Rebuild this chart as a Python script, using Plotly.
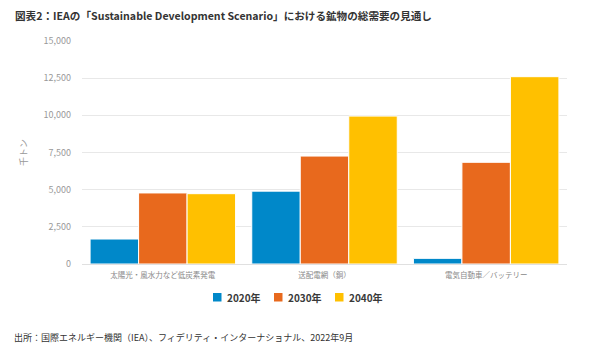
import plotly.graph_objects as go

categories = ["太陽光・風水力など低炭素発電", "送配電網（銅）", "電気自動車／バッテリー"]
years = ["2020年", "2030年", "2040年"]
values_2020 = [1680, 4900, 380]
values_2030 = [4780, 7260, 6840]
values_2040 = [4730, 9950, 12600]
colors = ["#0088C9", "#E8691D", "#FFC000"]
y_ticks = [0, 2500, 5000, 7500, 10000, 12500, 15000]
y_ticklabels = ["0", "2,500", "5,000", "7,500", "10,000", "12,500", "15,000"]

FONT = "Noto Sans CJK JP"
L, R, T, B = 82, 23, 41, 87
W, H = 590, 351
PW, PH = W - L - R, H - T - B


def px(x):
    return (x - L) / PW


def py(y):
    return (H - B - y) / PH


fig = go.Figure()
for name, vals, c in zip(years, [values_2020, values_2030, values_2040], colors):
    fig.add_trace(go.Bar(x=categories, y=vals, name=name, marker_color=c,
                         marker_line_color="white", marker_line_width=1))

fig.update_layout(
    width=W, height=H,
    margin=dict(l=L, r=R, t=T, b=B),
    paper_bgcolor="white", plot_bgcolor="white",
    barmode="group", bargap=0.1, bargroupgap=0,
    font=dict(family=FONT, color="#888888", size=9),
    showlegend=False,
)
fig.update_yaxes(range=[0, 15000], tickvals=y_ticks, ticktext=y_ticklabels,
                 showgrid=True, gridcolor="#E8E8E8", gridwidth=1, zeroline=False,
                 showline=False, ticks="", ticklabelstandoff=10,
                 tickfont=dict(size=9, color="#999999"),
                 title=dict(text="千トン", font=dict(size=9, color="#999999"), standoff=14))
fig.update_xaxes(showline=True, linecolor="#E0E0E0", linewidth=1, ticks="",
                 ticklabelstandoff=4,
                 tickfont=dict(size=7.5, color="#888888"))

# custom legend (centered on page)
start_x, step = 213, 61
for i, (name, c) in enumerate(zip(years, colors)):
    x0 = start_x + step * i
    fig.add_shape(type="rect", xref="paper", yref="paper",
                  x0=px(x0), x1=px(x0 + 8.5), y0=py(301.5), y1=py(293),
                  fillcolor=c, line_width=0)
    fig.add_annotation(text="<b>" + name + "</b>", xref="paper", yref="paper",
                       x=px(x0 + 12), y=py(297), xanchor="left", yanchor="middle",
                       showarrow=False, font=dict(size=10, color="#3A3A3A", family=FONT))

fig.add_annotation(text="<b>図表2：IEAの「Sustainable Development Scenario」における鉱物の総需要の見通し</b>",
                   xref="paper", yref="paper", x=px(13), y=py(15), xanchor="left", yanchor="middle",
                   showarrow=False, font=dict(size=10.6, color="#333333", family=FONT))
fig.add_annotation(text="出所：国際エネルギー機関（IEA）、フィデリティ・インターナショナル、2022年9月",
                   xref="paper", yref="paper", x=px(12), y=py(337), xanchor="left", yanchor="middle",
                   showarrow=False, font=dict(size=9, color="#333333", family=FONT))

fig.write_html("out.html")
